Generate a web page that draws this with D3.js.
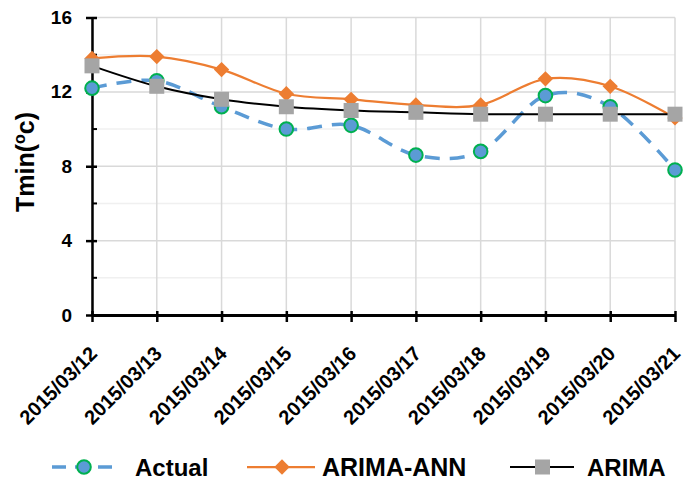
<!DOCTYPE html>
<html>
<head>
<meta charset="utf-8">
<style>
  body { margin: 0; background: #fff; }
  svg { font-family: "Liberation Sans", Arial, sans-serif; font-weight: bold; }
</style>
</head>
<body>
<svg width="684" height="485"></svg>
<script src="https://cdn.jsdelivr.net/npm/d3@7"></script>
<script>
var dates = ["2015/03/12", "2015/03/13", "2015/03/14", "2015/03/15", "2015/03/16",
             "2015/03/17", "2015/03/18", "2015/03/19", "2015/03/20", "2015/03/21"];
var actual   = [12.2, 12.6, 11.2, 10.0, 10.2, 8.6, 8.8, 11.8, 11.2, 7.8];
var arimaAnn = [13.8, 13.9, 13.2, 11.9, 11.6, 11.3, 11.3, 12.7, 12.3, 10.6];
var arima    = [13.4, 12.3, 11.6, 11.2, 11.0, 10.9, 10.8, 10.8, 10.8, 10.8];
var yTicks = [0, 4, 8, 12, 16];
var yMinor = [2, 6, 10, 14];

var svg = d3.select("svg");

var x = d3.scalePoint().domain(dates).range([92, 675]);
var y = d3.scaleLinear().domain([0, 16]).range([315, 17.5]);

// grid
var grid = svg.append("g");
grid.selectAll(".minor").data(yMinor).enter().append("line")
    .attr("x1", 92).attr("x2", 675)
    .attr("y1", function(d) { return y(d); }).attr("y2", function(d) { return y(d); })
    .attr("stroke", "#f0f0f0").attr("stroke-width", 1.5);
grid.selectAll(".major").data(yTicks).enter().append("line")
    .attr("x1", 92).attr("x2", 675)
    .attr("y1", function(d) { return y(d); }).attr("y2", function(d) { return y(d); })
    .attr("stroke", "#d9d9d9").attr("stroke-width", 1.5);
grid.selectAll(".vert").data(dates).enter().append("line")
    .attr("x1", function(d) { return x(d); }).attr("x2", function(d) { return x(d); })
    .attr("y1", y(16)).attr("y2", y(0))
    .attr("stroke", "#d9d9d9").attr("stroke-width", 1.5);

// axes
var yAxis = svg.append("g").attr("transform", "translate(92,0)")
    .call(d3.axisLeft(y).tickValues(yTicks).tickSize(6).tickSizeOuter(0).tickPadding(14));
yAxis.select(".domain").attr("stroke", "#000").attr("stroke-width", 2.5);
yAxis.selectAll(".tick line").attr("stroke", "#000").attr("stroke-width", 2.5).attr("x2", -6).attr("x1", 5);
yAxis.selectAll(".tick text").attr("font-size", 19).attr("font-family", "Liberation Sans").attr("font-weight", "bold").attr("fill", "#000");
svg.append("g").selectAll("line").data(yMinor).enter().append("line")
    .attr("x1", 92).attr("x2", 97)
    .attr("y1", function(d) { return y(d); }).attr("y2", function(d) { return y(d); })
    .attr("stroke", "#000").attr("stroke-width", 2);

var xAxis = svg.append("g").attr("transform", "translate(0,315)")
    .call(d3.axisBottom(x).tickSize(7).tickSizeOuter(0));
xAxis.select(".domain").attr("stroke", "#000").attr("stroke-width", 3);
xAxis.selectAll(".tick line").attr("stroke", "#000").attr("stroke-width", 2.5).attr("y1", -4);
xAxis.selectAll(".tick text")
    .attr("font-size", 20).attr("font-family", "Liberation Sans").attr("font-weight", "bold").attr("fill", "#000")
    .attr("text-anchor", "end")
    .attr("transform", "translate(1,35) rotate(-45)")
    .attr("dy", "0.35em").attr("y", 0);

// y label
var yl = svg.append("text")
    .attr("transform", "translate(34,162) rotate(-90)")
    .attr("text-anchor", "middle")
    .attr("font-size", 25);
yl.append("tspan").text("Tmin(");
yl.append("tspan").attr("font-size", 16).attr("dy", -9).text("o");
yl.append("tspan").attr("dy", 9).text("c)");

var curve = d3.curveCatmullRom.alpha(0);
function lineFor(vals) {
  return d3.line()
    .x(function(d, i) { return x(dates[i]); })
    .y(function(d) { return y(d); })
    .curve(curve)(vals);
}

// Actual
svg.append("path").attr("d", lineFor(actual))
    .attr("fill", "none").attr("stroke", "#5b9bd5").attr("stroke-width", 3.5)
    .attr("stroke-dasharray", "15,10");
svg.append("g").selectAll("circle").data(actual).enter().append("circle")
    .attr("cx", function(d, i) { return x(dates[i]); })
    .attr("cy", function(d) { return y(d); })
    .attr("r", 6.8).attr("fill", "#5b9bd5").attr("stroke", "#00b050").attr("stroke-width", 2);

// ARIMA-ANN
svg.append("path").attr("d", lineFor(arimaAnn))
    .attr("fill", "none").attr("stroke", "#ed7d31").attr("stroke-width", 2.25);
svg.append("g").selectAll("path").data(arimaAnn).enter().append("path")
    .attr("d", d3.symbol().type(d3.symbolDiamond2).size(150))
    .attr("transform", function(d, i) { return "translate(" + x(dates[i]) + "," + y(d) + ")"; })
    .attr("fill", "#ed7d31");

// ARIMA
svg.append("path").attr("d", lineFor(arima))
    .attr("fill", "none").attr("stroke", "#000").attr("stroke-width", 2);
svg.append("g").selectAll("rect").data(arima).enter().append("rect")
    .attr("x", function(d, i) { return x(dates[i]) - 7.5; })
    .attr("y", function(d) { return y(d) - 7.5; })
    .attr("width", 15).attr("height", 15).attr("fill", "#a5a5a5");

// legend
var ly = 467;
var leg = svg.append("g");
leg.append("line").attr("x1", 52).attr("x2", 116).attr("y1", ly).attr("y2", ly)
    .attr("stroke", "#5b9bd5").attr("stroke-width", 3.5).attr("stroke-dasharray", "14,9");
leg.append("circle").attr("cx", 84).attr("cy", ly).attr("r", 6.8)
    .attr("fill", "#5b9bd5").attr("stroke", "#00b050").attr("stroke-width", 2);
leg.append("text").attr("x", 135).attr("y", ly).attr("dy", "0.36em").attr("font-size", 24).text("Actual");

leg.append("line").attr("x1", 247).attr("x2", 315).attr("y1", ly).attr("y2", ly)
    .attr("stroke", "#ed7d31").attr("stroke-width", 2.25);
leg.append("path").attr("d", d3.symbol().type(d3.symbolDiamond2).size(150))
    .attr("transform", "translate(282," + ly + ")").attr("fill", "#ed7d31");
leg.append("text").attr("x", 322).attr("y", ly).attr("dy", "0.36em").attr("font-size", 25).text("ARIMA-ANN");

leg.append("line").attr("x1", 510).attr("x2", 574).attr("y1", ly).attr("y2", ly)
    .attr("stroke", "#000").attr("stroke-width", 2);
leg.append("rect").attr("x", 535).attr("y", ly - 7.5).attr("width", 15).attr("height", 15).attr("fill", "#a5a5a5");
leg.append("text").attr("x", 587).attr("y", ly).attr("dy", "0.36em").attr("font-size", 24).text("ARIMA");
</script>
</body>
</html>
